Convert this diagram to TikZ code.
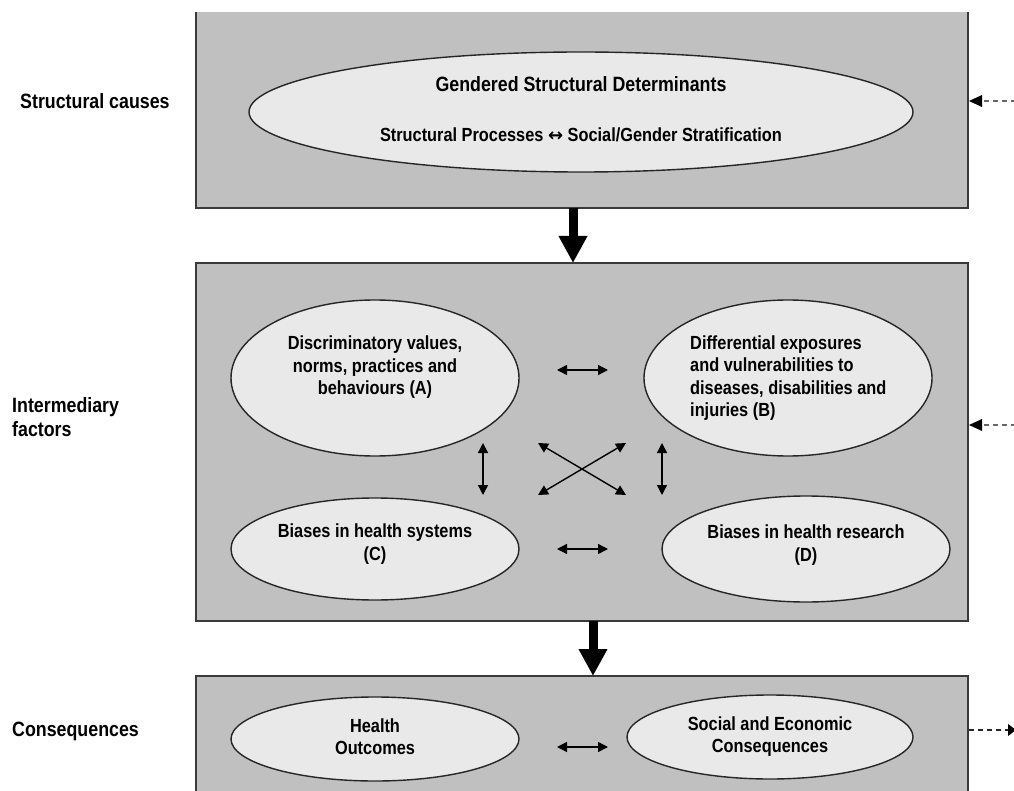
\documentclass[tikz,border=0pt]{standalone}
\usepackage{fontspec}
\setmainfont[FakeStretch=0.86]{Liberation Sans}
\newfontfamily\symfont{DejaVu Sans}
\usetikzlibrary{shapes.geometric,arrows.meta}
\definecolor{boxgray}{HTML}{C0C0C0}
\definecolor{ellgray}{HTML}{E9E9E9}
\definecolor{edgegray}{HTML}{3A3A3A}
\tikzset{
  panel/.style={fill=boxgray,draw=edgegray,line width=2pt},
  oval/.style={ellipse,fill=ellgray,draw=black!85,line width=1.4pt,inner sep=0pt},
  txt/.style={font=\bfseries\fontsize{19}{22.5}\selectfont,align=center,inner sep=0pt},
  sidelabel/.style={font=\bfseries\fontsize{20.7}{24}\selectfont,align=left,anchor=west,inner sep=0pt},
  bigarrow/.style={line width=9pt,-{Triangle[length=27pt,width=27pt]}},
  twoway/.style={line width=1.4pt,{Triangle[length=10pt,width=10pt]}-{Triangle[length=10pt,width=10pt]}},
  dashin/.style={draw=gray!80!black,line width=1.4pt,dash pattern=on 5pt off 4pt},
}
\begin{document}
\begin{tikzpicture}[x=1pt,y=-1pt]
\useasboundingbox (0,0) rectangle (1014,791);
\clip (0,0) rectangle (1014,791);
% panels
\fill[boxgray] (196,12) rectangle (968,208);
\draw[edgegray,line width=2pt] (196,12) -- (196,208) -- (968,208) -- (968,12);
\node[panel,minimum width=772pt,minimum height=358pt,inner sep=0pt] (p2) at (582,442) {};
\fill[boxgray] (196,676) rectangle (968,800);
\draw[edgegray,line width=2pt] (196,800) -- (196,676) -- (968,676) -- (968,800);
% side labels
\node[sidelabel] (l1) at (20,101) {Structural causes};
\node[sidelabel] (l2) at (12,417) {Intermediary\\factors};
\node[sidelabel] (l3) at (12,731) {Consequences};
% top ellipse
\node[oval,minimum width=664pt,minimum height=120pt] (g) at (581,112) {};
\node[txt,font=\bfseries\fontsize{20.7}{24}\selectfont] (gt) at (581,84) {Gendered Structural Determinants};
\node[txt] (gs) at (581,135) {Structural Processes {\symfont\fontsize{18}{18}\selectfont ↔} Social/Gender Stratification};
% intermediary ellipses
\node[oval,minimum width=288pt,minimum height=156pt] (a) at (375,378) {};
\node[oval,minimum width=288pt,minimum height=156pt] (b) at (788,378) {};
\node[oval,minimum width=288pt,minimum height=102pt] (c) at (375,549) {};
\node[oval,minimum width=288pt,minimum height=106pt] (d) at (806,549) {};
\node[txt] (at) at (375,367.5) {Discriminatory values,\\norms, practices and\\behaviours (A)};
\node[txt,align=left,anchor=west] (bt) at (690,378) {Differential exposures\\and vulnerabilities to\\diseases, disabilities and\\injuries (B)};
\node[txt] (ct) at (375,544) {Biases in health systems\\(C)};
\node[txt] (dt) at (806,545) {Biases in health research\\(D)};
% consequences ellipses
\node[oval,minimum width=288pt,minimum height=84pt] (e) at (375,739) {};
\node[oval,minimum width=286pt,minimum height=84pt] (f) at (770,737) {};
\node[txt] (et) at (375,736.5) {Health\\Outcomes};
\node[txt] (ft) at (770,736.5) {Social and Economic\\Consequences};
% small connector coordinates
\coordinate (ab1) at (557,370); \coordinate (ab2) at (608,370);
\coordinate (cd1) at (557,549); \coordinate (cd2) at (608,549);
\coordinate (ef1) at (557,747); \coordinate (ef2) at (608,747);
\coordinate (ac1) at (483,443); \coordinate (ac2) at (483,495);
\coordinate (bd1) at (662,443); \coordinate (bd2) at (662,495);
\coordinate (x1) at (538,443); \coordinate (x2) at (626,495);
\coordinate (x3) at (626,443); \coordinate (x4) at (538,495);
\draw[twoway] (ab1) -- (ab2);
\draw[twoway] (cd1) -- (cd2);
\draw[twoway] (ef1) -- (ef2);
\draw[twoway] (ac1) -- (ac2);
\draw[twoway] (bd1) -- (bd2);
\draw[twoway] (x1) -- (x2);
\draw[twoway] (x3) -- (x4);
% big arrows
\coordinate (s1) at (573,208); \coordinate (e1) at (573,263);
\coordinate (s2) at (593,621); \coordinate (e2) at (593,676);
\draw[bigarrow] (s1) -- (e1);
\draw[bigarrow] (s2) -- (e2);
% dashed side arrows
\coordinate (d1s) at (1016,101); \coordinate (d1e) at (969,101);
\coordinate (d2s) at (1016,425); \coordinate (d2e) at (969,425);
\coordinate (d3s) at (969,730); \coordinate (d3e) at (1016,730);
\draw[dashin] (d1s) -- (982,101);
\fill (d1e) -- (982,95) -- (982,107) -- cycle;
\draw[dashin] (d2s) -- (982,425);
\fill (d2e) -- (982,419) -- (982,431) -- cycle;
\draw[dashin,draw=black!85] (d3s) -- (1008,730);
\fill (d3e) -- (1008,724) -- (1008,736) -- cycle;
\end{tikzpicture}
\end{document}
